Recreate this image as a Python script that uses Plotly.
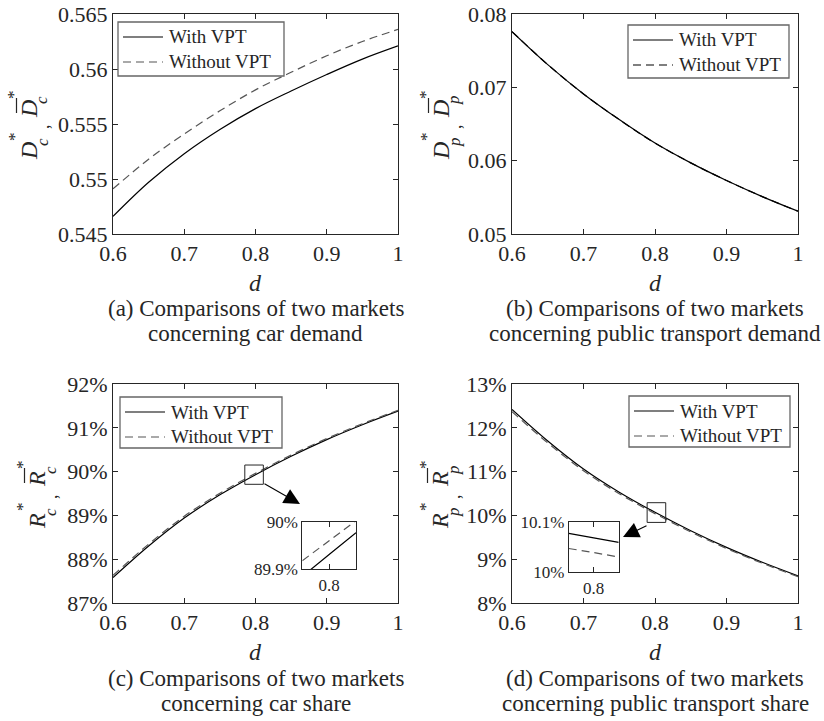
import plotly.graph_objects as go

W, H = 824, 721

# ---- data -------------------------------------------------------------
d = [0.6, 0.65, 0.7, 0.75, 0.8, 0.85, 0.9, 0.95, 1.0]

car_demand_with = [0.5466, 0.5497, 0.5523, 0.5545, 0.5564, 0.5580, 0.5595, 0.5609, 0.5621]
car_demand_without = [0.5491, 0.5518, 0.5541, 0.5562, 0.5581, 0.5597, 0.5612, 0.5625, 0.5636]

pt_demand_with = [0.0776, 0.0731, 0.0691, 0.0656, 0.0624, 0.0597, 0.0573, 0.0551, 0.0531]
pt_demand_without = [0.0776, 0.0731, 0.0691, 0.0656, 0.0624, 0.0597, 0.0573, 0.0551, 0.0531]

car_share_with = [87.58, 88.30, 88.94, 89.47, 89.93, 90.35, 90.73, 91.07, 91.38]
car_share_without = [87.63, 88.345, 88.98, 89.505, 89.96, 90.377, 90.754, 91.092, 91.40]

pt_share_with = [12.42, 11.70, 11.06, 10.53, 10.07, 9.65, 9.27, 8.93, 8.62]
pt_share_without = [12.37, 11.655, 11.02, 10.495, 10.04, 9.623, 9.246, 8.908, 8.60]

# close-ups around d = 0.8
car_zoom_d = [0.795, 0.8, 0.805]
car_zoom_with = [89.885, 89.931, 89.977]
car_zoom_without = [89.918, 89.960, 90.002]

pt_zoom_d = [0.799, 0.8, 0.801]
pt_zoom_with = [10.077, 10.068, 10.059]
pt_zoom_without = [10.047, 10.039, 10.030]

# ---- tick labels ------------------------------------------------------
d_ticks = [0.6, 0.7, 0.8, 0.9, 1.0]
d_ticktext = ["0.6", "0.7", "0.8", "0.9", "1"]
car_demand_ticks = [0.545, 0.55, 0.555, 0.56, 0.565]
car_demand_ticktext = ["0.545", "0.55", "0.555", "0.56", "0.565"]
pt_demand_ticks = [0.05, 0.06, 0.07, 0.08]
pt_demand_ticktext = ["0.05", "0.06", "0.07", "0.08"]
car_share_ticks = [87, 88, 89, 90, 91, 92]
car_share_ticktext = ["87%", "88%", "89%", "90%", "91%", "92%"]
pt_share_ticks = [8, 9, 10, 11, 12, 13]
pt_share_ticktext = ["8%", "9%", "10%", "11%", "12%", "13%"]

series_names = ["With VPT", "Without VPT"]

FONT = "Liberation Serif"
INK = "#262626"
DASH_GREY = "#555555"
DASH = "8px,5px"


def px(x):
    return x / W


def py(y):
    return 1 - y / H


fig = go.Figure()


def add_pair(xs, y_with, y_without, xa, ya, dash_color):
    fig.add_trace(go.Scatter(
        x=xs, y=y_with, mode="lines", name=series_names[0], xaxis=xa, yaxis=ya,
        line=dict(color="black", width=1.2, shape="spline"), showlegend=False))
    fig.add_trace(go.Scatter(
        x=xs, y=y_without, mode="lines", name=series_names[1], xaxis=xa, yaxis=ya,
        line=dict(color=dash_color, width=1.2, dash=DASH, shape="spline"), showlegend=False))


add_pair(d, car_demand_with, car_demand_without, "x", "y", DASH_GREY)
add_pair(d, pt_demand_with, pt_demand_without, "x2", "y2", "black")
add_pair(d, car_share_with, car_share_without, "x3", "y3", DASH_GREY)
add_pair(d, pt_share_with, pt_share_without, "x4", "y4", DASH_GREY)
add_pair(car_zoom_d, car_zoom_with, car_zoom_without, "x5", "y5", DASH_GREY)
add_pair(pt_zoom_d, pt_zoom_with, pt_zoom_without, "x6", "y6", DASH_GREY)


def axis(domain, anchor, rng, tickvals, ticktext, size=22):
    return dict(domain=domain, anchor=anchor, range=rng, tickmode="array",
                tickvals=tickvals, ticktext=ticktext, automargin=False,
                showline=True, linecolor=INK, linewidth=1, mirror="ticks",
                ticks="inside", ticklen=5, tickcolor=INK, tickwidth=1,
                showgrid=False, zeroline=False,
                tickfont=dict(family=FONT, size=size, color=INK))


top = [py(234), py(14)]
bottom = [py(603), py(384)]
left = [px(113), px(398)]
right = [px(512), px(798)]

fig.update_layout(
    template="none",
    width=W, height=H, autosize=False,
    margin=dict(l=0, r=0, t=0, b=0, pad=0, autoexpand=False),
    paper_bgcolor="white", plot_bgcolor="white",
    font=dict(family=FONT, color=INK),
    xaxis=axis(left, "y", [0.6, 1.0], d_ticks, d_ticktext),
    yaxis=axis(top, "x", [0.545, 0.565], car_demand_ticks, car_demand_ticktext),
    xaxis2=axis(right, "y2", [0.6, 1.0], d_ticks, d_ticktext),
    yaxis2=axis(top, "x2", [0.05, 0.08], pt_demand_ticks, pt_demand_ticktext),
    xaxis3=axis(left, "y3", [0.6, 1.0], d_ticks, d_ticktext),
    yaxis3=axis(bottom, "x3", [87, 92], car_share_ticks, car_share_ticktext),
    xaxis4=axis(right, "y4", [0.6, 1.0], d_ticks, d_ticktext),
    yaxis4=axis(bottom, "x4", [8, 13], pt_share_ticks, pt_share_ticktext),
    xaxis5=axis([px(302.3), px(356)], "y5", [0.795, 0.805], [0.8], ["0.8"], size=17),
    yaxis5=axis([py(569.3), py(521.7)], "x5", [89.9, 90.0], [89.9, 90.0], ["89.9%", "90%"], size=17),
    xaxis6=axis([px(568.7), px(618.7)], "y6", [0.799, 0.801], [0.8], ["0.8"], size=17),
    yaxis6=axis([py(572.3), py(521.7)], "x6", [10.0, 10.1], [10.0, 10.1], ["10%", "10.1%"], size=17),
    showlegend=False,
)

annotations = []
shapes = []


def text(x, y, s, size, angle=0, xanchor="center"):
    annotations.append(dict(x=px(x), y=py(y), xref="paper", yref="paper", text=s,
                            showarrow=False, textangle=angle, xanchor=xanchor,
                            yanchor="middle", font=dict(family=FONT, size=size, color=INK)))


def hline(x0, x1, y, color, dash=None, width=1.2):
    shapes.append(dict(type="line", xref="paper", yref="paper",
                       x0=px(x0), x1=px(x1), y0=py(y), y1=py(y),
                       line=dict(color=color, width=width, dash=dash or "solid")))


def legend_box(x0, y0, x1, y1, dash_color):
    shapes.append(dict(type="rect", xref="paper", yref="paper",
                       x0=px(x0), x1=px(x1), y0=py(y1), y1=py(y0),
                       fillcolor="white", line=dict(color="#666666", width=1.3), layer="above"))
    hline(x0 + 5, x0 + 45, y0 + 15, "black")
    hline(x0 + 5, x0 + 45, y0 + 40, dash_color, DASH)
    text(x0 + 49, y0 + 15, series_names[0], 19, xanchor="left")
    text(x0 + 49, y0 + 40, series_names[1], 19, xanchor="left")


legend_box(118, 22, 284, 76, DASH_GREY)
legend_box(628, 25, 789, 78, "black")
legend_box(120, 397, 282, 448, DASH_GREY)
legend_box(629, 396, 790, 447, DASH_GREY)


def ylabel(cx, cy, letter, sub):
    # rotated symbol pair "X*_s , X̄*_s", reading upwards
    text(cx, cy + 27, f"<i>{letter}</i>", 24, -90)
    text(cx - 15, cy + 13, "*", 17, -90)
    text(cx + 13, cy + 18, f"<i>{sub}</i>", 17, -90)
    text(cx + 14, cy + 3, ",", 18, -90)
    text(cx, cy - 15, f"<i>{letter}</i>", 24, -90)
    text(cx - 15, cy - 29, "*", 17, -90)
    text(cx + 13, cy - 24, f"<i>{sub}</i>", 17, -90)
    shapes.append(dict(type="line", xref="paper", yref="paper",
                       x0=px(cx - 12.5), x1=px(cx - 12.5), y0=py(cy - 26), y1=py(cy - 11),
                       line=dict(color=INK, width=1.2)))


ylabel(29, 124, "D", "c")
ylabel(441, 124, "D", "p")
ylabel(37, 494, "R", "c")
ylabel(440, 494, "R", "p")

for cx, cy in [(256, 283), (655, 283), (256, 652), (655, 652)]:
    text(cx, cy, "<i>d</i>", 24)

captions = [
    (256, 308, "(a) Comparisons of two markets"), (256, 333, "concerning car demand"),
    (655, 308, "(b) Comparisons of two markets"), (655, 333, "concerning public transport demand"),
    (256, 678, "(c) Comparisons of two markets"), (256, 703, "concerning car share"),
    (655, 678, "(d) Comparisons of two markets"), (655, 703, "concerning public transport share"),
]
for cx, cy, s in captions:
    text(cx, cy, s, 23)

# close-up markers on the main curves
i08 = d.index(0.8)
shapes.append(dict(type="rect", xref="x3", yref="y3",
                   x0=0.8 - 0.015, x1=0.8 + 0.011,
                   y0=car_share_with[i08] - 0.22, y1=car_share_with[i08] + 0.22,
                   line=dict(color=INK, width=1)))
shapes.append(dict(type="rect", xref="x4", yref="y4",
                   x0=0.8 - 0.011, x1=0.8 + 0.015,
                   y0=pt_share_with[i08] - 0.23, y1=pt_share_with[i08] + 0.22,
                   line=dict(color=INK, width=1)))

annotations.append(dict(x=px(300), y=py(504), xref="paper", yref="paper", text="",
                        showarrow=True, ax=-37, ay=-21, arrowhead=2, arrowsize=2.9,
                        arrowwidth=1.1, arrowcolor="black"))
annotations.append(dict(x=px(623), y=py(537), xref="paper", yref="paper", text="",
                        showarrow=True, ax=25, ay=-12, arrowhead=2, arrowsize=2.9,
                        arrowwidth=1.1, arrowcolor="black"))

fig.update_layout(annotations=annotations, shapes=shapes)

fig.write_html("out.html", config={"responsive": False},
               post_script="document.body.style.margin='0';document.body.style.overflow='hidden';")
